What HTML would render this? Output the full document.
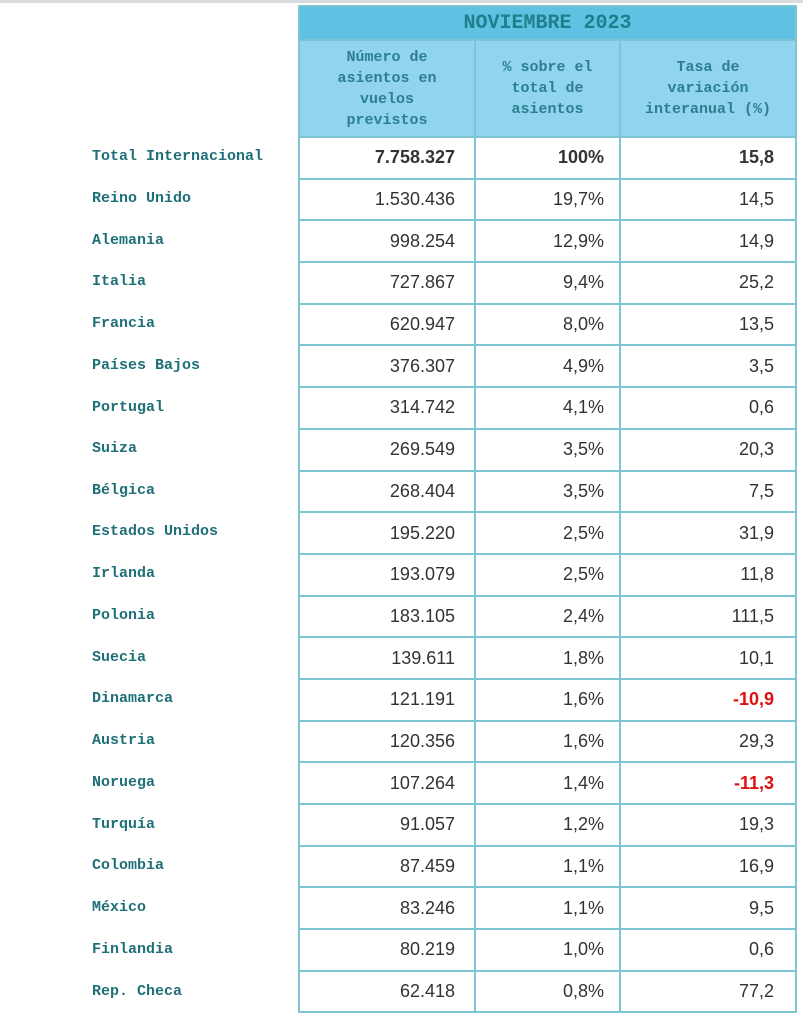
<!DOCTYPE html>
<html><head><meta charset="utf-8"><style>
body{margin:0;width:803px;height:1024px;background:#fff;position:relative;overflow:hidden;font-family:"Liberation Sans",sans-serif}
.topline{position:absolute;left:0;top:0;width:803px;height:3px;background:#d8dcdd}
table{position:absolute;left:298px;top:5px;border-collapse:collapse;table-layout:fixed;width:497px}
td{border:2px solid #7fc4d2;padding:0;box-sizing:border-box}
.t{background:#5fc2e3;height:34px;text-align:center;font:bold 20px "Liberation Mono",monospace;color:#1f7f8c}
.h{background:#90d4ef;height:97px;text-align:center;font:bold 15px "Liberation Mono",monospace;color:#2b7f8e;line-height:21px}
tr.r td{height:41.7px;text-align:right;font-size:18px;color:#333;padding-right:19px}
tr.r td.c2{padding-right:15px}
tr.r td.c3{padding-right:21px}
tr.b td{font-weight:bold}
tr.r td.neg{color:#e01010;font-weight:bold}
.lab{position:absolute;left:92px;font:bold 15px "Liberation Mono",monospace;color:#1f6f78}
</style></head><body>
<div class="topline"></div>
<table>
<colgroup><col style="width:176px"><col style="width:145px"><col style="width:176px"></colgroup>
<tr><td colspan="3" class="t">NOVIEMBRE 2023</td></tr>
<tr><td class="h c1">Número de<br>asientos en<br>vuelos<br>previstos</td><td class="h c2">% sobre el<br>total de<br>asientos</td><td class="h c3">Tasa de<br>variación<br>interanual (%)</td></tr>
<tr class="r b"><td class="c1">7.758.327</td><td class="c2">100%</td><td class="c3">15,8</td></tr>
<tr class="r"><td class="c1">1.530.436</td><td class="c2">19,7%</td><td class="c3">14,5</td></tr>
<tr class="r"><td class="c1">998.254</td><td class="c2">12,9%</td><td class="c3">14,9</td></tr>
<tr class="r"><td class="c1">727.867</td><td class="c2">9,4%</td><td class="c3">25,2</td></tr>
<tr class="r"><td class="c1">620.947</td><td class="c2">8,0%</td><td class="c3">13,5</td></tr>
<tr class="r"><td class="c1">376.307</td><td class="c2">4,9%</td><td class="c3">3,5</td></tr>
<tr class="r"><td class="c1">314.742</td><td class="c2">4,1%</td><td class="c3">0,6</td></tr>
<tr class="r"><td class="c1">269.549</td><td class="c2">3,5%</td><td class="c3">20,3</td></tr>
<tr class="r"><td class="c1">268.404</td><td class="c2">3,5%</td><td class="c3">7,5</td></tr>
<tr class="r"><td class="c1">195.220</td><td class="c2">2,5%</td><td class="c3">31,9</td></tr>
<tr class="r"><td class="c1">193.079</td><td class="c2">2,5%</td><td class="c3">11,8</td></tr>
<tr class="r"><td class="c1">183.105</td><td class="c2">2,4%</td><td class="c3">111,5</td></tr>
<tr class="r"><td class="c1">139.611</td><td class="c2">1,8%</td><td class="c3">10,1</td></tr>
<tr class="r"><td class="c1">121.191</td><td class="c2">1,6%</td><td class="c3 neg">-10,9</td></tr>
<tr class="r"><td class="c1">120.356</td><td class="c2">1,6%</td><td class="c3">29,3</td></tr>
<tr class="r"><td class="c1">107.264</td><td class="c2">1,4%</td><td class="c3 neg">-11,3</td></tr>
<tr class="r"><td class="c1">91.057</td><td class="c2">1,2%</td><td class="c3">19,3</td></tr>
<tr class="r"><td class="c1">87.459</td><td class="c2">1,1%</td><td class="c3">16,9</td></tr>
<tr class="r"><td class="c1">83.246</td><td class="c2">1,1%</td><td class="c3">9,5</td></tr>
<tr class="r"><td class="c1">80.219</td><td class="c2">1,0%</td><td class="c3">0,6</td></tr>
<tr class="r"><td class="c1">62.418</td><td class="c2">0,8%</td><td class="c3">77,2</td></tr>
</table>
<div class="lab" style="top:148px">Total Internacional</div>
<div class="lab" style="top:190px">Reino Unido</div>
<div class="lab" style="top:232px">Alemania</div>
<div class="lab" style="top:273px">Italia</div>
<div class="lab" style="top:315px">Francia</div>
<div class="lab" style="top:357px">Países Bajos</div>
<div class="lab" style="top:399px">Portugal</div>
<div class="lab" style="top:440px">Suiza</div>
<div class="lab" style="top:482px">Bélgica</div>
<div class="lab" style="top:523px">Estados Unidos</div>
<div class="lab" style="top:565px">Irlanda</div>
<div class="lab" style="top:607px">Polonia</div>
<div class="lab" style="top:649px">Suecia</div>
<div class="lab" style="top:690px">Dinamarca</div>
<div class="lab" style="top:732px">Austria</div>
<div class="lab" style="top:774px">Noruega</div>
<div class="lab" style="top:816px">Turquía</div>
<div class="lab" style="top:857px">Colombia</div>
<div class="lab" style="top:899px">México</div>
<div class="lab" style="top:941px">Finlandia</div>
<div class="lab" style="top:983px">Rep. Checa</div>
</body></html>
